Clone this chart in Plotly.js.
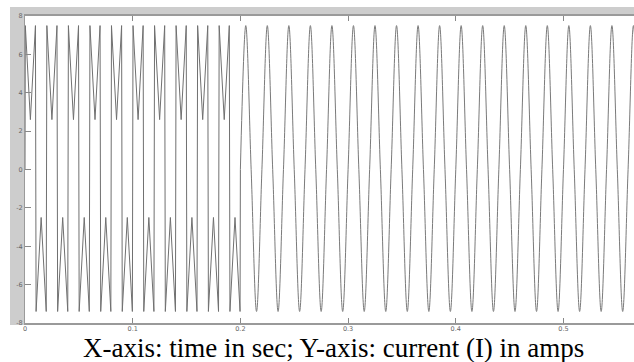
<!DOCTYPE html>
<html>
<head>
<meta charset="utf-8">
<script src="https://cdn.plot.ly/plotly-3.0.1.min.js"></script>
<style>html,body{margin:0;padding:0;background:#fff;}#chart{width:634px;height:362px;}</style>
</head>
<body>
<div id="chart"></div>
<script>
// Segment 1 (0 - 0.2 s): distorted wave, turning points
var seg1Time = [0, 0.0003, 0.005, 0.0097, 0.0103, 0.015, 0.0197,
  0.0203, 0.025, 0.0297, 0.0303, 0.035, 0.0397,
  0.0403, 0.045, 0.0497, 0.0503, 0.055, 0.0597,
  0.0603, 0.065, 0.0697, 0.0703, 0.075, 0.0797,
  0.0803, 0.085, 0.0897, 0.0903, 0.095, 0.0997,
  0.1003, 0.105, 0.1097, 0.1103, 0.115, 0.1197,
  0.1203, 0.125, 0.1297, 0.1303, 0.135, 0.1397,
  0.1403, 0.145, 0.1497, 0.1503, 0.155, 0.1597,
  0.1603, 0.165, 0.1697, 0.1703, 0.175, 0.1797,
  0.1803, 0.185, 0.1897, 0.1903, 0.195, 0.1997, 0.2];
var seg1Current = [0,
  7.5, 2.6, 7.5, -7.4, -2.5, -7.4,
  7.5, 2.6, 7.5, -7.4, -2.5, -7.4,
  7.5, 2.6, 7.5, -7.4, -2.5, -7.4,
  7.5, 2.6, 7.5, -7.4, -2.5, -7.4,
  7.5, 2.6, 7.5, -7.4, -2.5, -7.4,
  7.5, 2.6, 7.5, -7.4, -2.5, -7.4,
  7.5, 2.6, 7.5, -7.4, -2.5, -7.4,
  7.5, 2.6, 7.5, -7.4, -2.5, -7.4,
  7.5, 2.6, 7.5, -7.4, -2.5, -7.4,
  7.5, 2.6, 7.5, -7.4, -2.5, -7.4,
  0];

// Segment 2 (0.2 s onward): sinusoidal current, crossings and peaks
var seg2Time = [0.2, 0.205, 0.21, 0.215, 0.22, 0.225, 0.23, 0.235, 0.24, 0.245,
  0.25, 0.255, 0.26, 0.265, 0.27, 0.275, 0.28, 0.285, 0.29, 0.295,
  0.3, 0.305, 0.31, 0.315, 0.32, 0.325, 0.33, 0.335, 0.34, 0.345,
  0.35, 0.355, 0.36, 0.365, 0.37, 0.375, 0.38, 0.385, 0.39, 0.395,
  0.4, 0.405, 0.41, 0.415, 0.42, 0.425, 0.43, 0.435, 0.44, 0.445,
  0.45, 0.455, 0.46, 0.465, 0.47, 0.475, 0.48, 0.485, 0.49, 0.495,
  0.5, 0.505, 0.51, 0.515, 0.52, 0.525, 0.53, 0.535, 0.54, 0.545,
  0.55, 0.555, 0.56, 0.565, 0.57, 0.575];
var seg2Current = [0, 7.5, 0, -7.4, 0, 7.5, 0, -7.4, 0, 7.5,
  0, -7.4, 0, 7.5, 0, -7.4, 0, 7.5, 0, -7.4,
  0, 7.5, 0, -7.4, 0, 7.5, 0, -7.4, 0, 7.5,
  0, -7.4, 0, 7.5, 0, -7.4, 0, 7.5, 0, -7.4,
  0, 7.5, 0, -7.4, 0, 7.5, 0, -7.4, 0, 7.5,
  0, -7.4, 0, 7.5, 0, -7.4, 0, 7.5, 0, -7.4,
  0, 7.5, 0, -7.4, 0, 7.5, 0, -7.4, 0, 7.5,
  0, -7.4, 0, 7.5, 0, -7.4];

var xTickVals = [0, 0.1, 0.2, 0.3, 0.4, 0.5];
var xTickText = ['0', '0.1', '0.2', '0.3', '0.4', '0.5'];
var yTickVals = [-8, -6, -4, -2, 0, 2, 4, 6, 8];
var yTickText = ['-8', '-6', '-4', '-2', '0', '2', '4', '6', '8'];
var captionText = 'X-axis: time in sec; Y-axis: current (I) in amps';

var lineColor = '#707070';
var traces = [
  {x: seg1Time, y: seg1Current, type: 'scatter', mode: 'lines',
   line: {color: lineColor, width: 1, shape: 'linear'}, hoverinfo: 'skip'},
  {x: seg2Time, y: seg2Current, type: 'scatter', mode: 'lines',
   line: {color: '#7a7a7a', width: 1, shape: 'spline'}, hoverinfo: 'skip'}
];

var tickFont = {family: 'DejaVu Sans, Arial, sans-serif', size: 6.5, color: '#666'};
var layout = {
  width: 634, height: 362,
  margin: {l: 25, r: 0, t: 16, b: 39, pad: 0},
  paper_bgcolor: '#ffffff', plot_bgcolor: '#ffffff',
  showlegend: false,
  xaxis: {range: [0, 0.5655], tickvals: xTickVals, ticktext: xTickText,
    ticks: 'inside', ticklen: 5, tickcolor: '#888', tickwidth: 1,
    ticklabelstandoff: -2,
    showline: true, linecolor: '#9a9a9a', linewidth: 2, mirror: 'ticks',
    showgrid: false, zeroline: false, tickfont: tickFont, fixedrange: true},
  yaxis: {range: [-8, 8], tickvals: yTickVals, ticktext: yTickText,
    ticks: 'inside', ticklen: 6, tickcolor: '#888', tickwidth: 1,
    showline: true, linecolor: '#9a9a9a', linewidth: 1, mirror: false,
    showgrid: false, zeroline: false, tickfont: tickFont, fixedrange: true},
  shapes: [
    {type: 'rect', xref: 'paper', yref: 'paper', x0: -0.0246, x1: 0, y0: -0.0065, y1: 1.0293,
     fillcolor: '#cdcdcd', line: {width: 0}, layer: 'below'},
    {type: 'rect', xref: 'paper', yref: 'paper', x0: -0.0246, x1: 1, y0: 1, y1: 1.0293,
     fillcolor: '#cdcdcd', line: {width: 0}, layer: 'below'},
    {type: 'rect', xref: 'paper', yref: 'paper', x0: 0, x1: 1, y0: 1, y1: 1.0065,
     fillcolor: '#a8a8a8', line: {width: 0}, layer: 'below'}
  ],
  annotations: [
    {text: captionText, xref: 'paper', yref: 'paper', x: 0.507, y: -0.083,
     xanchor: 'center', yanchor: 'middle', showarrow: false, borderpad: 0,
     font: {family: 'Liberation Serif, Times New Roman, serif', size: 27, color: '#000'}}
  ]
};

Plotly.newPlot('chart', traces, layout, {staticPlot: true, displayModeBar: false});
</script>
</body>
</html>
